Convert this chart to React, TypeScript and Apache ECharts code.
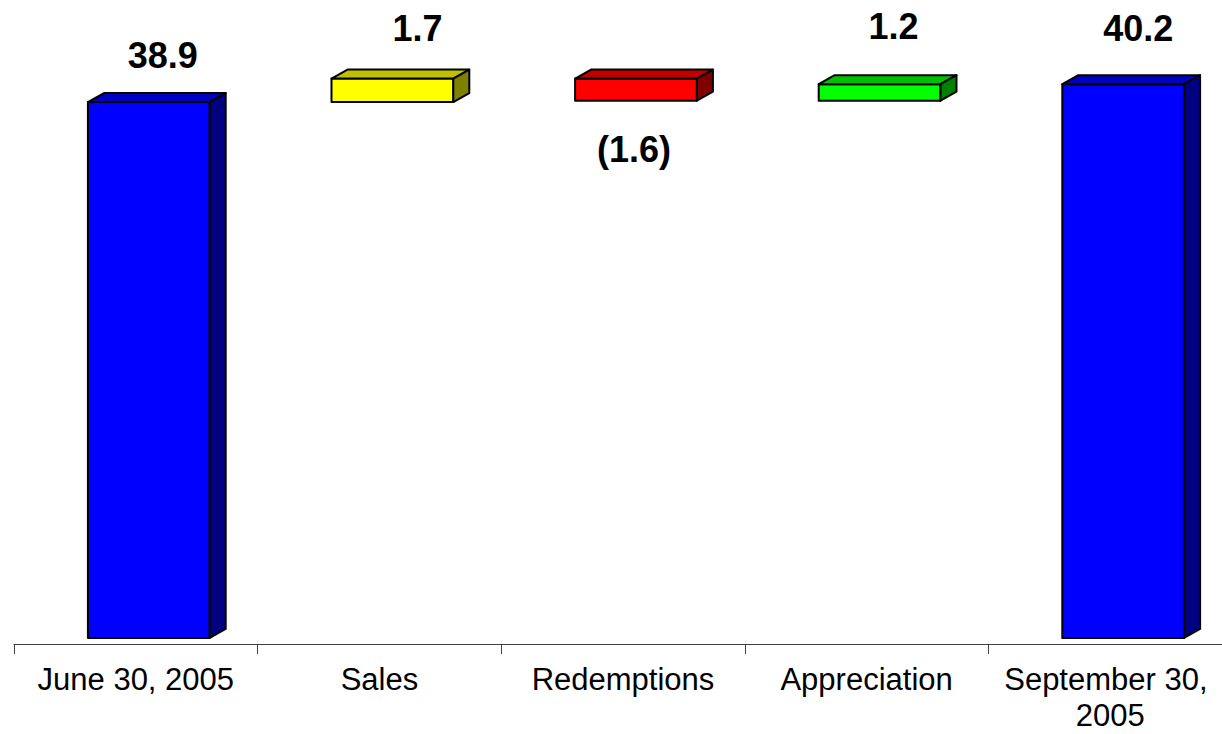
import React, { useEffect, useRef } from "react";
import * as echarts from "echarts";

// Fund assets walk (in billions): opening balance, flows, closing balance
const categories = ["June 30, 2005", "Sales", "Redemptions", "Appreciation", "September 30, 2005"];
const openingBalance = 38.9;
const flowValues = [1.7, -1.6, 1.2];
const closingBalance = 40.2;

// Face colours per bar: [front, top, side]
const faceColors: [string, string, string][] = [
  ["#0000FF", "#0000C0", "#000080"],
  ["#FFFF00", "#C0C000", "#808000"],
  ["#FF0000", "#C00000", "#800000"],
  ["#00FF00", "#00C000", "#008000"],
  ["#0000FF", "#0000C0", "#000080"],
];

// Value-label nudges relative to the bar's front face (px)
const labelNudge: [number, number][] = [
  [6, -47],
  [17, -50],
  [-10, 49],
  [6, -58],
  [7, -56],
];

const DEPTH_X = 16;
const DEPTH_Y = 9;
const FACE_SHIFT = 13;

function buildBars() {
  const rows: [number, number, number, number][] = [];
  rows.push([0, 0, openingBalance, openingBalance]);
  let level = openingBalance;
  flowValues.forEach((v, i) => {
    const next = level + v;
    rows.push([i + 1, Math.min(level, next), Math.max(level, next), v]);
    level = next;
  });
  rows.push([categories.length - 1, 0, closingBalance, closingBalance]);
  return rows;
}

function formatValue(v: number) {
  return v < 0 ? `(${Math.abs(v).toFixed(1)})` : v.toFixed(1);
}

export default function App() {
  const ref = useRef<HTMLDivElement>(null);

  useEffect(() => {
    if (!ref.current) return;
    const chart = echarts.init(ref.current, undefined, { renderer: "svg" });
    const bars = buildBars();

    chart.setOption({
      animation: false,
      backgroundColor: "#FFFFFF",
      // the floor line sits a few pixels below the bars' base
      grid: { left: 14, right: 0, top: 18, bottom: 90 },
      xAxis: {
        type: "category",
        data: categories,
        boundaryGap: true,
        axisLine: { onZero: false, lineStyle: { color: "#404040", width: 1 } },
        axisTick: { show: true, length: 10, lineStyle: { color: "#404040", width: 1 } },
        axisLabel: {
          interval: 0,
          margin: 17,
          color: "#000000",
          fontSize: 31,
          lineHeight: 36,
          fontFamily: "Liberation Sans, Arial, sans-serif",
          width: 236,
          overflow: "break",
        },
        splitLine: { show: false },
      },
      yAxis: {
        type: "value",
        min: -0.44,
        max: 45,
        show: false,
        splitLine: { show: false },
      },
      series: [
        {
          type: "custom",
          clip: false,
          encode: { x: 0, y: [1, 2] },
          data: bars,
          renderItem: (params: any, api: any) => {
            const idx = api.value(0);
            const low = api.value(1);
            const high = api.value(2);
            const val = api.value(3);
            const cx = api.coord([idx, 0])[0];
            const yTop = api.coord([idx, high])[1];
            const yBot = api.coord([idx, low])[1];
            const bw = api.size([1, 0])[0] * 0.5;
            const x0 = cx + FACE_SHIFT - bw / 2;
            const x1 = x0 + bw;
            const [front, top, side] = faceColors[idx];
            const stroke = { stroke: "#000000", lineWidth: 2, lineJoin: "round" };
            const [ndx, ndy] = labelNudge[idx];
            const anchorY = val < 0 ? yBot : yTop;
            return {
              type: "group",
              children: [
                {
                  type: "rect",
                  shape: { x: x0, y: yTop, width: bw, height: yBot - yTop },
                  style: { fill: front, ...stroke },
                },
                {
                  type: "polygon",
                  shape: {
                    points: [
                      [x0, yTop],
                      [x0 + DEPTH_X, yTop - DEPTH_Y],
                      [x1 + DEPTH_X, yTop - DEPTH_Y],
                      [x1, yTop],
                    ],
                  },
                  style: { fill: top, ...stroke },
                },
                {
                  type: "polygon",
                  shape: {
                    points: [
                      [x1, yTop],
                      [x1 + DEPTH_X, yTop - DEPTH_Y],
                      [x1 + DEPTH_X, yBot - DEPTH_Y],
                      [x1, yBot],
                    ],
                  },
                  style: { fill: side, ...stroke },
                },
                {
                  type: "text",
                  style: {
                    text: formatValue(val),
                    x: cx + FACE_SHIFT + DEPTH_X / 2 + ndx,
                    y: anchorY + ndy,
                    align: "center",
                    verticalAlign: "middle",
                    fill: "#000000",
                    font: "bold 36px 'Liberation Sans', Arial, sans-serif",
                  },
                },
              ],
            };
          },
        },
      ],
    });

    return () => chart.dispose();
  }, []);

  // The plot runs slightly past the right edge of the visible frame
  return (
    <div
      style={{
        position: "absolute",
        left: 0,
        top: 0,
        width: 1222,
        height: 734,
        overflow: "hidden",
        background: "#FFFFFF",
      }}
    >
      <div ref={ref} style={{ width: 1232, height: 734 }} />
    </div>
  );
}
